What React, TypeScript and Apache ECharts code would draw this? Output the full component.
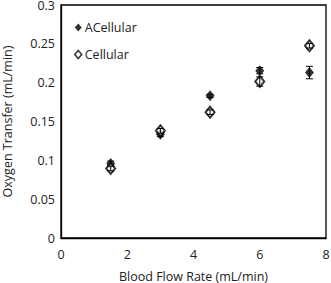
import React, { useEffect, useRef } from "react";
import * as echarts from "echarts";

const flowRates = [1.5, 3, 4.5, 6, 7.5];
const acellular = [0.096, 0.1335, 0.183, 0.2155, 0.213];
const acellularErr = [0.003, 0.003, 0.002, 0.004, 0.008];
const cellular = [0.0895, 0.138, 0.162, 0.2015, 0.2475];
const cellularErr = [0.003, 0.003, 0.003, 0.006, 0.003];
const xTicks = [0, 2, 4, 6, 8];
const yTicks = [0, 0.05, 0.1, 0.15, 0.2, 0.25, 0.3];

const FONT = "'Open Sans', 'Liberation Sans', sans-serif";

function errSeries(vals: number[], errs: number[], z: number) {
  return {
    type: "custom",
    z,
    silent: true,
    data: flowRates.map((x, i) => [x, vals[i] - errs[i], vals[i] + errs[i]]),
    renderItem: (params: any, api: any) => {
      const lo = api.coord([api.value(0), api.value(1)]);
      const hi = api.coord([api.value(0), api.value(2)]);
      const w = 3.5;
      const st = { stroke: "#000", lineWidth: 1 };
      return {
        type: "group",
        children: [
          { type: "line", shape: { x1: lo[0], y1: lo[1], x2: hi[0], y2: hi[1] }, style: st },
          { type: "line", shape: { x1: lo[0] - w, y1: lo[1], x2: lo[0] + w, y2: lo[1] }, style: st },
          { type: "line", shape: { x1: hi[0] - w, y1: hi[1], x2: hi[0] + w, y2: hi[1] }, style: st },
        ],
      };
    },
  };
}

export default function App() {
  const ref = useRef<HTMLDivElement>(null);
  useEffect(() => {
    document.body.style.margin = "0";
    const chart = echarts.init(ref.current!, null, { renderer: "svg" });
    chart.setOption({
      animation: false,
      backgroundColor: "#fff",
      grid: {
        left: 61,
        top: 5,
        right: 5,
        bottom: 45,
        containLabel: false,
        outerBoundsMode: "none",
        show: true,
        borderColor: "#000",
        borderWidth: 1.3,
        backgroundColor: "transparent",
      },
      xAxis: {
        type: "value",
        min: xTicks[0],
        max: xTicks[xTicks.length - 1],
        interval: 2,
        name: "Blood Flow Rate (mL/min)",
        nameLocation: "middle",
        nameGap: 32,
        nameTextStyle: { fontFamily: FONT, fontSize: 12.5, color: "#222" },
        axisLine: { show: true, lineStyle: { color: "#000", width: 1.3 } },
        axisTick: { show: false },
        splitLine: { show: false },
        axisLabel: { fontFamily: FONT, fontSize: 12.5, color: "#222", margin: 10 },
      },
      yAxis: {
        type: "value",
        min: yTicks[0],
        max: yTicks[yTicks.length - 1],
        interval: 0.05,
        name: "Oxygen Transfer (mL/min)",
        nameLocation: "middle",
        nameGap: 47,
        nameTextStyle: { fontFamily: FONT, fontSize: 12.5, color: "#222" },
        axisLine: { show: true, lineStyle: { color: "#000", width: 1.3 } },
        axisTick: { show: false },
        splitLine: { show: false },
        axisLabel: { fontFamily: FONT, fontSize: 12.5, color: "#222", margin: 6 },
      },
      legend: {
        orient: "vertical",
        left: 69,
        top: 16,
        itemWidth: 7,
        itemHeight: 8,
        itemGap: 14,
        itemStyle: { borderWidth: 1.5 },
        textStyle: { fontFamily: FONT, fontSize: 12.5, color: "#222", padding: [0, 0, 0, -2] },
        data: [
          { name: "ACellular", icon: "diamond" },
          { name: "Cellular", icon: "diamond" },
        ],
      },
      series: [
        errSeries(acellular, acellularErr, 2),
        {
          name: "ACellular",
          type: "scatter",
          z: 3,
          symbol: "diamond",
          symbolSize: [9, 11],
          itemStyle: { color: "#000" },
          data: flowRates.map((x, i) => [x, acellular[i]]),
        },
        {
          name: "Cellular",
          type: "scatter",
          z: 4,
          symbol: "diamond",
          symbolSize: [9, 11],
          itemStyle: { color: "#fff", borderColor: "#000", borderWidth: 2 },
          data: flowRates.map((x, i) => [x, cellular[i]]),
        },
        errSeries(cellular, cellularErr, 5),
      ],
    });
    return () => chart.dispose();
  }, []);
  return <div ref={ref} style={{ width: 331, height: 283 }} />;
}
